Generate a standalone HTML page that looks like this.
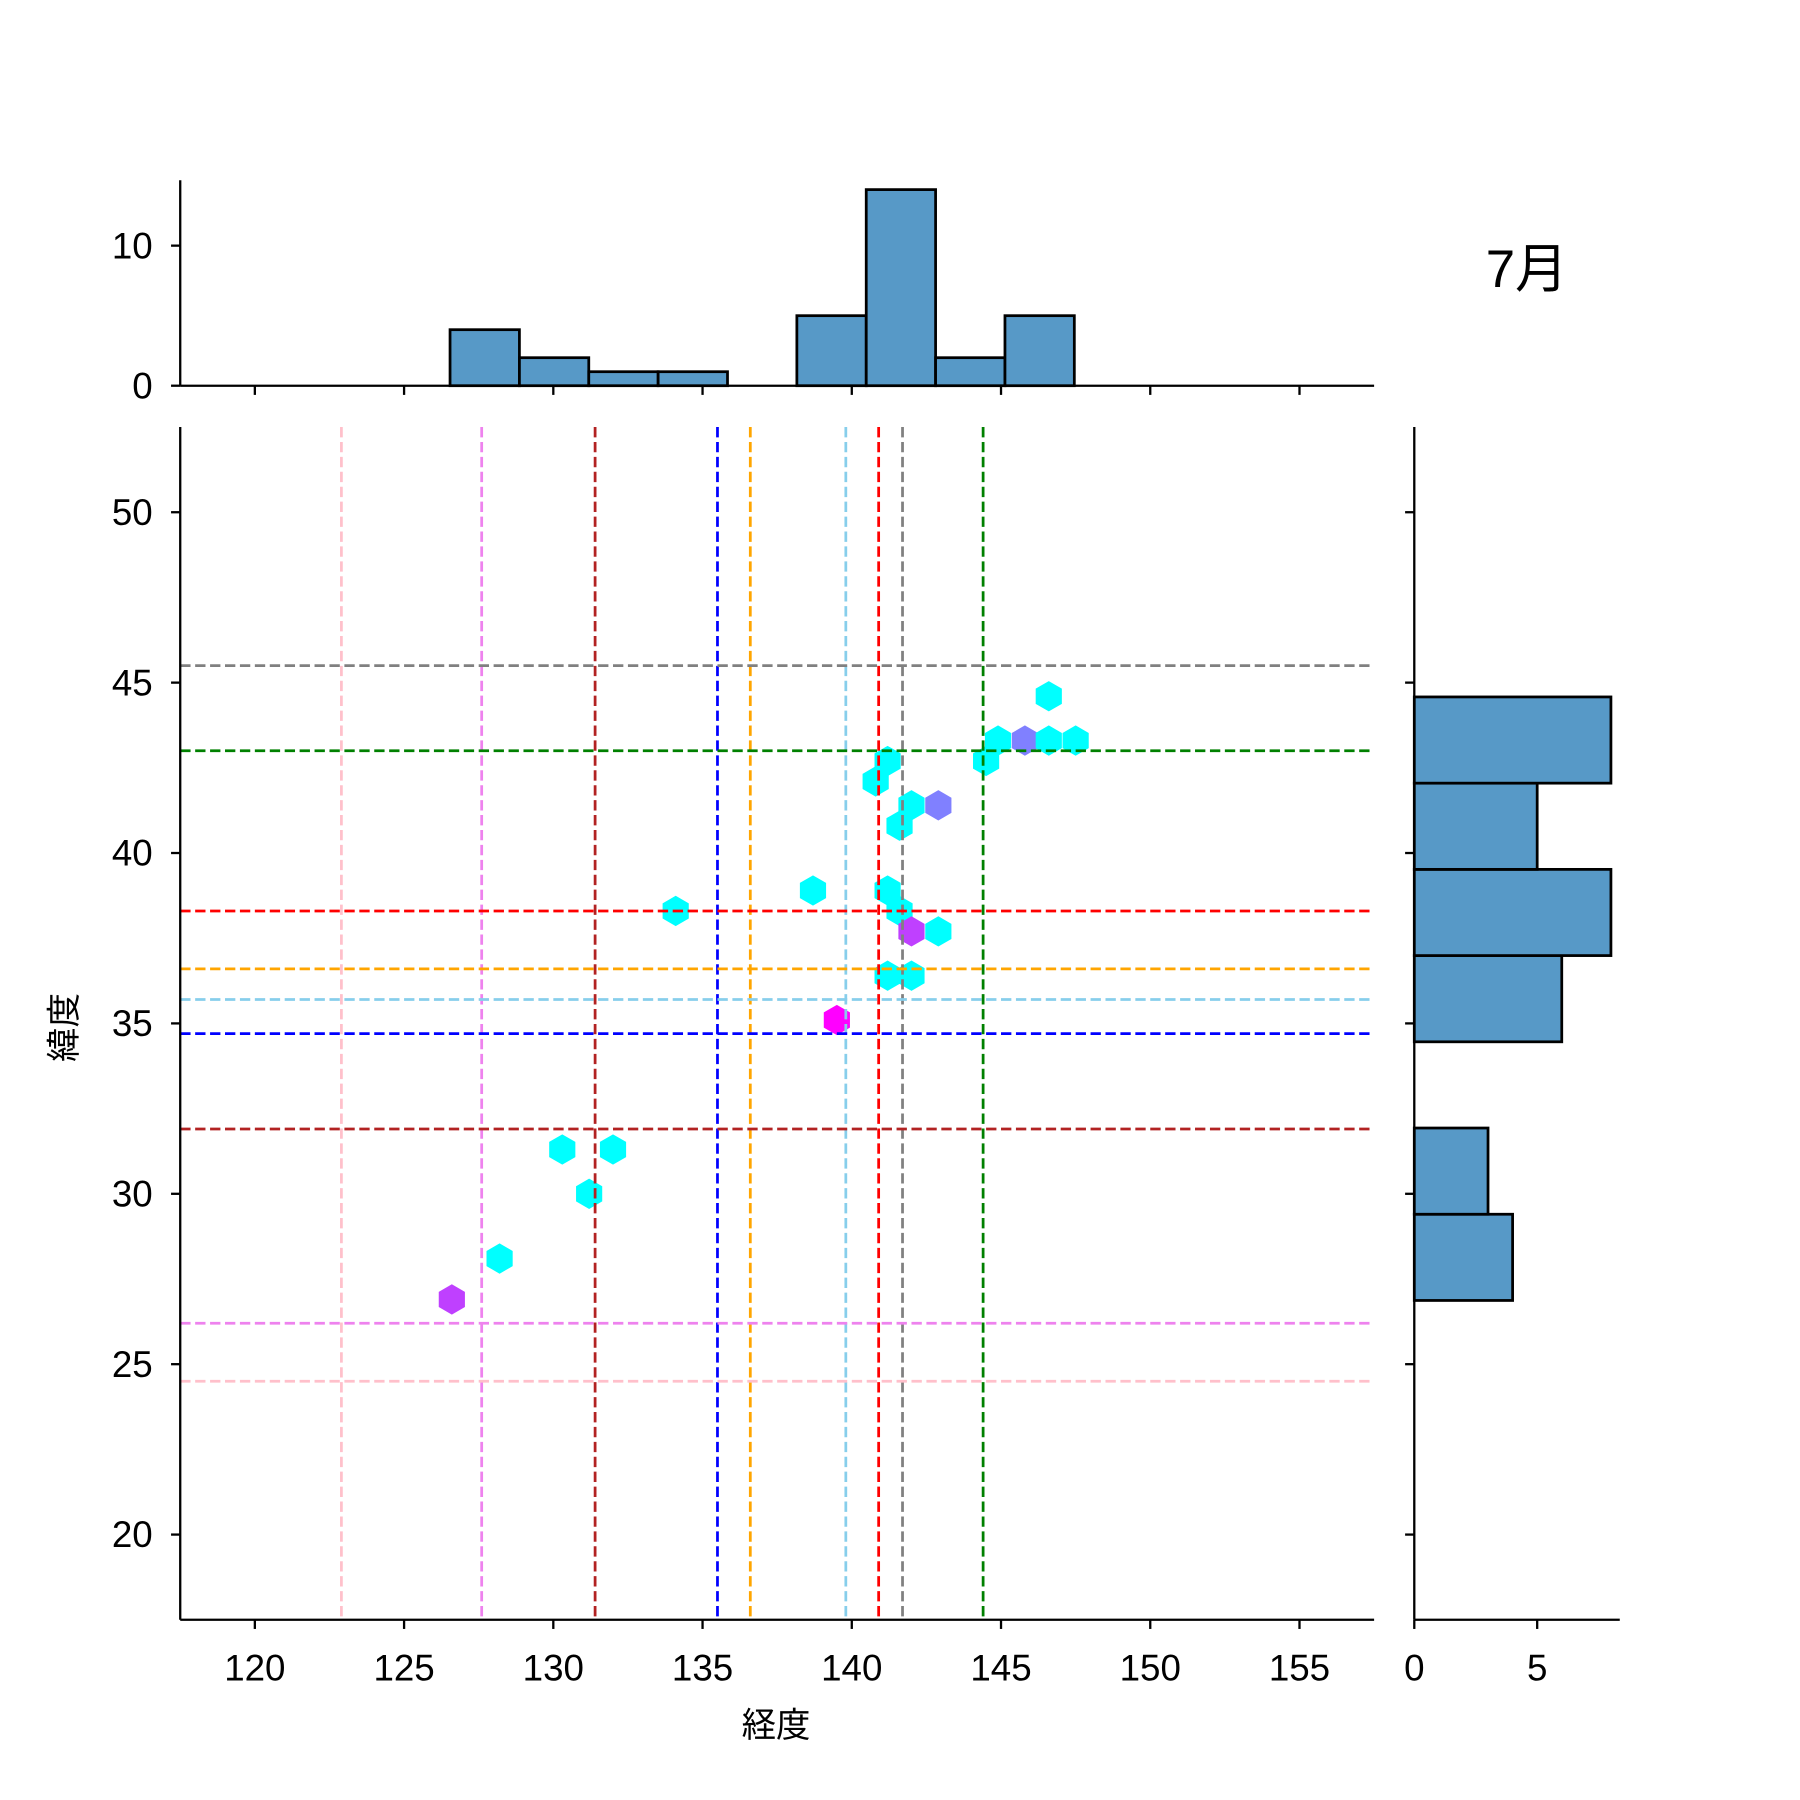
<!DOCTYPE html>
<html><head><meta charset="utf-8"><style>
html,body{margin:0;padding:0;background:#fff}
svg{display:block}
text{font-family:"Liberation Sans","Noto Sans CJK JP",sans-serif;fill:#000}
</style></head><body>
<svg id="chart" xmlns="http://www.w3.org/2000/svg" width="1800" height="1800" viewBox="0 0 1568 1568">
<rect width="1568" height="1568" fill="#fff"/>
<g id="hexes"></g>
<g id="lines"></g>
<g id="tophist"></g>
<g id="righthist"></g>
<g id="axes"></g>
<text x="1330" y="250" font-size="46" text-anchor="middle">7月</text>
<text x="676" y="1513" font-size="30" text-anchor="middle">経度</text>
<text x="0" y="0" font-size="30" text-anchor="middle" transform="translate(66,895) rotate(-90)">緯度</text>
</svg>
<script>
const hexLon=[126.6,128.2,130.3,132.0,131.2,134.1,138.7,139.5,141.2,141.6,142.0,142.9,141.2,142.0,140.8,141.2,142.0,142.9,141.6,144.5,144.9,145.8,146.6,147.5,146.6];
const hexLat=[26.9,28.1,31.3,31.3,30.0,38.3,38.9,35.1,38.9,38.3,37.7,37.7,36.4,36.4,42.1,42.7,41.4,41.4,40.8,42.7,43.3,43.3,43.3,43.3,44.6];
const hexColor=["#bf40ff","#00ffff","#00ffff","#00ffff","#00ffff","#00ffff","#00ffff","#ff00ff","#00ffff","#00ffff","#bf40ff","#00ffff","#00ffff","#00ffff","#00ffff","#00ffff","#00ffff","#8080ff","#00ffff","#00ffff","#00ffff","#8080ff","#00ffff","#00ffff","#00ffff"];
const vLineLon=[122.9,127.6,131.4,135.5,136.6,139.8,140.9,141.7,144.4];
const hLineLat=[24.5,26.2,31.9,34.7,35.7,36.6,38.3,43.0,45.5];
const lineColors=["pink","violet","#b22222","blue","orange","skyblue","red","gray","green"];
const hLineColors=["pink","violet","#b22222","blue","skyblue","orange","red","green","gray"];
const lonBinStart=126.54, lonBinWidth=2.324;
const lonCounts=[4,2,1,1,0,5,14,2,5];
const latBinStart=26.87, latBinWidth=2.53;
const latCounts=[4,3,0,6,8,5,8];
const xTicks=[120,125,130,135,140,145,150,155];
const yTicks=[20,25,30,35,40,45,50];
const topTicks=[0,10];
const rightTicks=[0,5];

const NS="http://www.w3.org/2000/svg";
const L=157,R=1197,T=372,B=1411;
const xs=v=>L+(v-117.5)/40*(R-L);
const ys=v=>B-(v-17.5)/35*(B-T);
const hB=336,hT=157, hy=v=>hB-v*(hB-hT)/14.67;
const rL=1232,rR=1411, rx=v=>rL+v*(rR-rL)/8.36;
function mk(tag,attrs,parent){const e=document.createElementNS(NS,tag);for(const k in attrs)e.setAttribute(k,attrs[k]);parent.appendChild(e);return e;}
const lines=document.getElementById('lines');
vLineLon.forEach((v,i)=>{const e=mk('line',{x1:xs(v),x2:xs(v),y1:T,y2:B,stroke:lineColors[i],'stroke-width':2.4,'stroke-dasharray':'9 4'},lines);

});
hLineLat.forEach((v,i)=>{const e=mk('line',{x1:L,x2:R,y1:ys(v),y2:ys(v),stroke:hLineColors[i],'stroke-width':2.4,'stroke-dasharray':'9 4'},lines);

});
const hexes=document.getElementById('hexes');
hexLon.forEach((v,i)=>{const cx=xs(v),cy=ys(hexLat[i]),r=13.2,w=11.4;
const p=[[cx,cy-r],[cx+w,cy-r/2],[cx+w,cy+r/2],[cx,cy+r],[cx-w,cy+r/2],[cx-w,cy-r/2]].map(a=>a.join(',')).join(' ');
const e=mk('polygon',{points:p,fill:hexColor[i]},hexes);

});
const th=document.getElementById('tophist');
lonCounts.forEach((c,i)=>{if(!c)return;const x0=xs(lonBinStart+i*lonBinWidth),x1=xs(lonBinStart+(i+1)*lonBinWidth);
const e=mk('rect',{x:x0,y:hy(c),width:x1-x0,height:hB-hy(c),fill:'#5799c7',stroke:'#000','stroke-width':2.4},th);

});
const rh=document.getElementById('righthist');
latCounts.forEach((c,i)=>{if(!c)return;const y0=ys(latBinStart+(i+1)*latBinWidth),y1=ys(latBinStart+i*latBinWidth);
const e=mk('rect',{x:rL,y:y0,width:rx(c)-rL,height:y1-y0,fill:'#5799c7',stroke:'#000','stroke-width':2.4},rh);

});
const ax=document.getElementById('axes');
const sp={stroke:'#000','stroke-width':2};
mk('line',Object.assign({x1:L,x2:L,y1:T,y2:B},sp),ax);
mk('line',Object.assign({x1:L,x2:R,y1:B,y2:B},sp),ax);
mk('line',Object.assign({x1:L,x2:L,y1:hT,y2:hB},sp),ax);
mk('line',Object.assign({x1:L,x2:R,y1:hB,y2:hB},sp),ax);
mk('line',Object.assign({x1:rL,x2:rL,y1:T,y2:B},sp),ax);
mk('line',Object.assign({x1:rL,x2:rR,y1:B,y2:B},sp),ax);
xTicks.forEach(v=>{mk('line',Object.assign({x1:xs(v),x2:xs(v),y1:B,y2:B+8},sp),ax);
mk('line',Object.assign({x1:xs(v),x2:xs(v),y1:hB,y2:hB+8},sp),ax);
const t=mk('text',{x:xs(v),y:B+53,'font-size':32,'text-anchor':'middle'},ax);t.textContent=v;

});
yTicks.forEach(v=>{mk('line',Object.assign({x1:L-8,x2:L,y1:ys(v),y2:ys(v)},sp),ax);
mk('line',Object.assign({x1:rL-8,x2:rL,y1:ys(v),y2:ys(v)},sp),ax);
const t=mk('text',{x:L-24,y:ys(v)+11,'font-size':32,'text-anchor':'end'},ax);t.textContent=v;

});
topTicks.forEach(v=>{mk('line',Object.assign({x1:L-8,x2:L,y1:hy(v),y2:hy(v)},sp),ax);
const t=mk('text',{x:L-24,y:hy(v)+11,'font-size':32,'text-anchor':'end'},ax);t.textContent=v;

});
rightTicks.forEach(v=>{mk('line',Object.assign({x1:rx(v),x2:rx(v),y1:B,y2:B+8},sp),ax);
const t=mk('text',{x:rx(v),y:B+53,'font-size':32,'text-anchor':'middle'},ax);t.textContent=v;

});
</script>
</body></html>
